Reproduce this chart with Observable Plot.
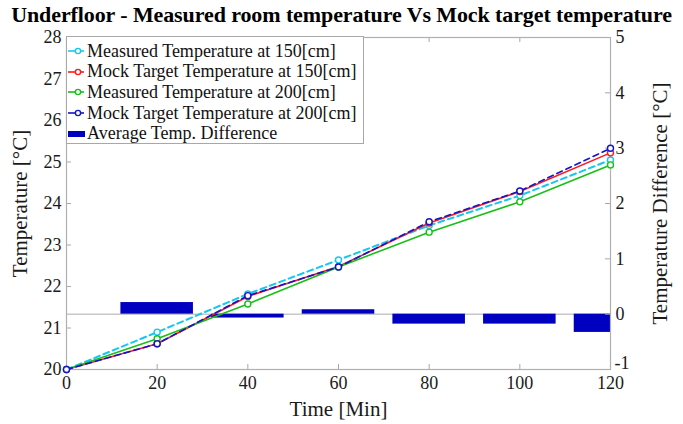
<!DOCTYPE html>
<html>
<head>
<meta charset="utf-8">
<script src="https://cdn.jsdelivr.net/npm/d3@7"></script>
<script src="https://cdn.jsdelivr.net/npm/@observablehq/plot@0.6"></script>
<style>
  body { margin: 0; background: #fff; font-family: "Liberation Serif", "Times New Roman", serif; }
  #wrap { position: relative; width: 683px; height: 424px; overflow: hidden; }
  #title { position: absolute; left: 0; top: 0; width: 683px; text-align: center; font-weight: bold;
           font-size: 22px; line-height: 30px; color: #000; white-space: nowrap; letter-spacing: -0.1px; }
  .layer { position: absolute; left: 0; top: 30px; }
  #legend { position: absolute; left: 66px; top: 36px; width: 298px; height: 108px; box-sizing: border-box;
            border: 1px solid #a8a8a8; background: #fff; padding-top: 4px; font-size: 18px; color: #111; }
  #legend .row { display: flex; align-items: center; height: 20.6px; white-space: nowrap; }
  #legend svg { flex: none; margin-right: 2px; }
</style>
</head>
<body>
<div id="wrap">
  <div id="title">Underfloor - Measured room temperature Vs Mock target temperature</div>
  <div id="legend"></div>
</div>
<script>
// Sampling times (minutes)
const time = [0, 20, 40, 60, 80, 100, 120];

// Room temperature series (°C)
const measured150 = [20.0, 20.90, 21.82, 22.64, 23.47, 24.19, 25.05];
const target150   = [20.0, 20.62, 21.76, 22.48, 23.53, 24.29, 25.22];
const measured200 = [20.0, 20.74, 21.58, 22.47, 23.31, 24.04, 24.93];
const target200   = [20.0, 20.62, 21.78, 22.47, 23.56, 24.30, 25.33];

// Average temperature difference bars (°C, right axis)
const diffTime = [20, 40, 60, 80, 100, 120];
const avgDiff  = [0.21, -0.07, 0.08, -0.18, -0.18, -0.33];

// Axis ticks
const timeTicks = [0, 20, 40, 60, 80, 100, 120];
const tempTicks = [20, 21, 22, 23, 24, 25, 26, 27, 28];
const diffTicks = [-1, 0, 1, 2, 3, 4, 5];

const seriesNames = [
  "Measured Temperature at 150[cm]",
  "Mock Target Temperature at 150[cm]",
  "Measured Temperature at 200[cm]",
  "Mock Target Temperature at 200[cm]"
];
const barName = "Average Temp. Difference";

const series = [
  {name: seriesNames[0], values: measured150, color: "#14c8f0", dash: "6,4", width: 2},
  {name: seriesNames[1], values: target150,   color: "#ff1a1a", dash: null,  width: 1.6},
  {name: seriesNames[2], values: measured200, color: "#16c016", dash: null,  width: 1.6},
  {name: seriesNames[3], values: target200,   color: "#1414c8", dash: "6,4", width: 1.6}
];
const barColor = "#0000c0";

// Layout
const W = 683, H = 394, MT = 7, MB = 55, ML = 66, MR = 73;
const PW = W - ML - MR, PH = H - MT - MB;
const TICK = 5;
const font = "Liberation Serif, Times New Roman, serif";
const common = {
  width: W, height: H, marginTop: MT, marginBottom: MB, marginLeft: ML, marginRight: MR,
  style: {background: "transparent", fontFamily: font, fontSize: "18px", color: "#1a1a1a", overflow: "visible"}
};

// Back layer: difference bars on the right axis
const barRows = diffTime.map((t, i) => ({t, v: avgDiff[i]}));
const back = Plot.plot({
  ...common,
  x: {domain: [0, 120], axis: null},
  y: {domain: [-1, 5], axis: null},
  marks: [
    Plot.ruleY([0], {stroke: "#c8c8c8", strokeWidth: 1.5}),
    Plot.rectY(barRows, {x1: d => d.t - 8, x2: d => d.t + 8, y1: 0, y2: "v", fill: barColor, clip: true}),
    Plot.tickY(diffTicks, {y: d => d, stroke: "#a8a8a8", insetLeft: PW - TICK}),
    Plot.axisY(diffTicks.filter(d => d > -1), {anchor: "right", tickSize: 0, tickPadding: 5, tickFormat: d => String(d), label: null, fontSize: 18}),
    // the lowest right-axis label sits raised above the corner, clear of the time labels
    Plot.axisY([-1], {anchor: "right", tickSize: 0, tickPadding: 4, dy: -6, tickFormat: d => String(d), label: null, fontSize: 18}),
    Plot.text(["Temperature Difference [°C]"], {frameAnchor: "right", dx: 50, rotate: -90, textAnchor: "middle", lineAnchor: "middle", fontSize: 21, fill: "#1a1a1a"})
  ]
});
back.classList.add("layer");

// Front layer: temperature lines, left and bottom axes
const lineRows = series.map(s => time.map((t, i) => ({t, v: s.values[i]})));
const lineMarks = [];
series.forEach((s, k) => {
  lineMarks.push(Plot.line(lineRows[k], {x: "t", y: "v", stroke: s.color, strokeWidth: s.width, strokeDasharray: s.dash}));
  lineMarks.push(Plot.dot(lineRows[k], {x: "t", y: "v", r: 3, stroke: s.color, strokeWidth: 1.4, fill: "white"}));
});

const front = Plot.plot({
  ...common,
  x: {domain: [0, 120], axis: null},
  y: {domain: [20, 28], axis: null},
  marks: [
    Plot.tickY(tempTicks, {y: d => d, stroke: "#a8a8a8", insetRight: PW - TICK}),
    Plot.tickX(timeTicks, {x: d => d, stroke: "#a8a8a8", insetTop: PH - TICK}),
    Plot.tickX(timeTicks, {x: d => d, stroke: "#a8a8a8", insetBottom: PH - TICK}),
    Plot.frame({stroke: "#b0b0b0", strokeWidth: 1.2}),
    ...lineMarks,
    Plot.axisY(tempTicks, {anchor: "left", tickSize: 0, tickPadding: 5, tickFormat: d => String(d), label: null, fontSize: 18}),
    Plot.axisX(timeTicks, {anchor: "bottom", tickSize: 0, tickPadding: 7, tickFormat: d => String(d), label: null, fontSize: 18}),
    Plot.text(["Temperature [°C]"], {frameAnchor: "left", dx: -46, rotate: -90, textAnchor: "middle", lineAnchor: "middle", fontSize: 21, fill: "#1a1a1a"}),
    Plot.text(["Time [Min]"], {frameAnchor: "bottom", dy: 40, textAnchor: "middle", lineAnchor: "middle", fontSize: 21, fill: "#1a1a1a"})
  ]
});
front.classList.add("layer");

const wrap = document.getElementById("wrap");
const legend = document.getElementById("legend");
wrap.insertBefore(back, legend);
wrap.insertBefore(front, legend);

// Legend rows
const ns = "http://www.w3.org/2000/svg";
function swatch(s) {
  const svg = document.createElementNS(ns, "svg");
  svg.setAttribute("width", 18); svg.setAttribute("height", 12);
  if (s) {
    const l = document.createElementNS(ns, "line");
    l.setAttribute("x1", 1); l.setAttribute("x2", 17); l.setAttribute("y1", 6); l.setAttribute("y2", 6);
    l.setAttribute("stroke", s.color); l.setAttribute("stroke-width", 1.6);
    const c = document.createElementNS(ns, "circle");
    c.setAttribute("cx", 11); c.setAttribute("cy", 6); c.setAttribute("r", 2.6);
    c.setAttribute("fill", "white"); c.setAttribute("stroke", s.color); c.setAttribute("stroke-width", 1.4);
    svg.append(l, c);
  } else {
    const r = document.createElementNS(ns, "rect");
    r.setAttribute("x", 1); r.setAttribute("y", 3); r.setAttribute("width", 17); r.setAttribute("height", 6);
    r.setAttribute("fill", barColor);
    svg.append(r);
  }
  return svg;
}
[...series, null].forEach(s => {
  const row = document.createElement("div");
  row.className = "row";
  const span = document.createElement("span");
  span.textContent = s ? s.name : barName;
  row.append(swatch(s), span);
  legend.append(row);
});
</script>
</body>
</html>
